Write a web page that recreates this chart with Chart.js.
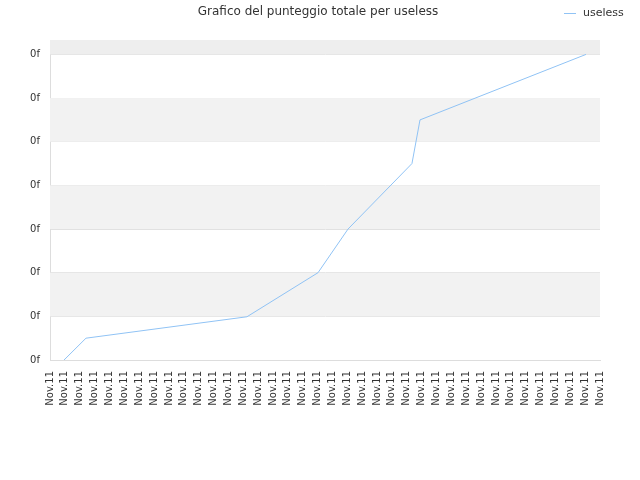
<!DOCTYPE html>
<html><head><meta charset="utf-8">
<script src="https://cdn.jsdelivr.net/npm/chart.js@4"></script>
<style>html,body{margin:0;padding:0;background:#fff}#w{width:640px;height:480px}</style>
</head><body><div id="w"><canvas id="c"></canvas></div>
<script>
const seriesName = "useless";
const chartTitle = "Grafico del punteggio totale per useless";
const xPos = [0, 2.42, 13.25, 18.03, 20.05, 24.35, 24.89, 36.06];
const yVals = [-0.32, 0.5, 0.99, 2.0, 3.0, 4.5, 5.5, 7.0];
const xTickLabel = "Nov.11";
const yTickLabel = "0f";
const xCount = 38;

const bands = {
  id: 'bands',
  beforeDatasetsDraw(chart) {
    const {ctx, chartArea: a, scales: {y}} = chart;
    ctx.save();
    for (let v = 1; v < 8; v += 2) {
      const top = y.getPixelForValue(Math.min(v + 1, y.max));
      const bot = y.getPixelForValue(v);
      ctx.fillStyle = v === 7 ? '#eeeeee' : '#f2f2f2';
      ctx.fillRect(a.left, top, a.right - a.left, bot - top);
    }
    ctx.restore();
  },
  afterDraw(chart) {
    const ctx = chart.ctx;
    const ds = chart.data.datasets[0];
    ctx.save();
    ctx.fillStyle = '#333';
    ctx.font = '12px "DejaVu Sans"';
    ctx.textAlign = 'center'; ctx.textBaseline = 'middle';
    ctx.fillText(chartTitle, 318, 12);
    ctx.font = '11px "DejaVu Sans"';
    ctx.textAlign = 'left';
    ctx.fillText(ds.label, 583, 13);
    ctx.strokeStyle = ds.borderColor; ctx.lineWidth = 1;
    ctx.beginPath(); ctx.moveTo(564, 13.5); ctx.lineTo(576, 13.5); ctx.stroke();
    ctx.restore();
  }
};

new Chart(document.getElementById('c'), {
  type: 'line',
  data: { datasets: [{
    label: seriesName,
    data: xPos.map((x, i) => ({x, y: yVals[i]})),
    borderColor: '#90c3f5', backgroundColor: '#90c3f5',
    borderWidth: 1, pointRadius: 0, tension: 0
  }]},
  options: {
    responsive: true, maintainAspectRatio: false, animation: false,
    layout: { padding: { left: 0, right: 40, top: 40, bottom: 62 } },
    plugins: { title: { display: false }, legend: { display: false }, tooltip: { enabled: false } },
    scales: {
      x: { type: 'linear', min: 0, max: xCount - 1,
        afterFit(s) { s.height = 58; },
        ticks: { stepSize: 1, autoSkip: false, maxRotation: 90, minRotation: 90, color: '#333',
          font: { family: 'DejaVu Sans', size: 10 }, callback: () => xTickLabel },
        grid: { display: false }, border: { color: '#dddddd' } },
      y: { min: 0, max: 7.33,
        afterFit(s) { s.width = 50; },
        afterBuildTicks(s) { s.ticks = [0,1,2,3,4,5,6,7].map(v => ({value: v})); },
        ticks: { color: '#333', font: { family: 'DejaVu Sans', size: 10 }, padding: 10, callback: () => yTickLabel },
        grid: { color: '#e0e0e0', drawTicks: false }, border: { color: '#dddddd' } }
    }
  },
  plugins: [bands]
});
</script></body></html>
